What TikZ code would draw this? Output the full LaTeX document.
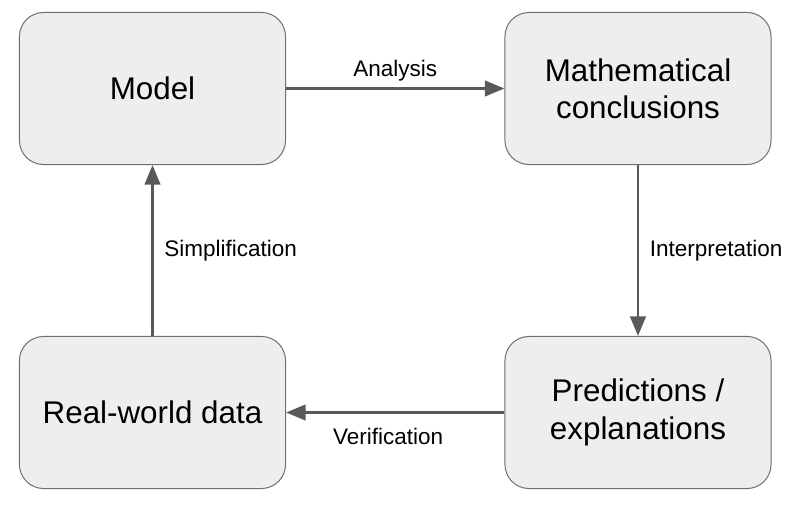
\documentclass[tikz,border=0pt]{standalone}
\usepackage{fontspec}
\setmainfont{Liberation Sans}
\usetikzlibrary{arrows.meta, positioning}
\definecolor{box-fill}{HTML}{EEEEEE}
\definecolor{box-line}{HTML}{6E6E6E}
\definecolor{arrow-grey}{HTML}{595959}

\begin{document}
\begin{tikzpicture}[x=0.025cm, y=-0.025cm,
      every node/.style={font=\fontsize{16}{19}\selectfont, text=black},
      stage/.style={draw=box-line, line width=0.7pt, fill=box-fill,
          rounded corners=0.6cm, minimum width=6.65cm, minimum height=3.8cm,
          align=center, font=\fontsize{22.3}{26.6}\selectfont},
      flow/.style={-{Triangle[length=14pt, width=11pt]}, line width=2.1pt,
          arrow-grey}]
    \useasboundingbox (0,0) rectangle (792,505);
    \node[stage] (model)   at (152.5,88.5)  {Model};
    \node[stage] (concl)   at (638,88.5)    {Mathematical\\conclusions};
    \node[stage] (data)    at (152.5,412.5) {Real-world data};
    \node[stage] (predict) at (638,412.5)   {Predictions /\\explanations};
    \draw[flow] (model) -- node[above=1pt] (lana) {Analysis} (concl);
    \draw[flow] (concl) -- node[right=4pt] (lint) {Interpretation} (predict);
    \draw[flow] (predict) -- node[below=7pt, xshift=-5pt] (lver) {Verification} (data);
    \draw[flow] (data) -- node[right=4pt] (lsim) {Simplification} (model);
  \end{tikzpicture}
\end{document}
